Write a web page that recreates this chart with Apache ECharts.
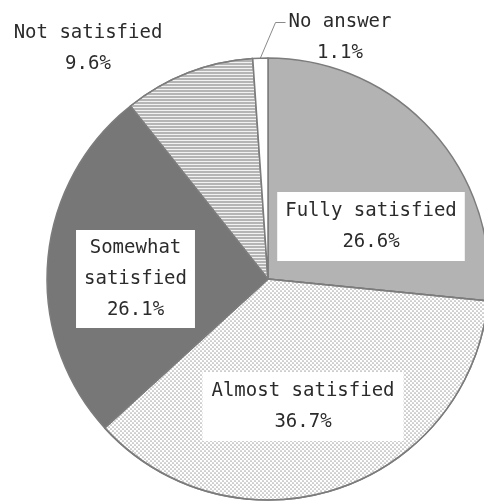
<!DOCTYPE html>
<html>
<head>
<meta charset="utf-8">
<script src="https://cdn.jsdelivr.net/npm/echarts@6/dist/echarts.min.js"></script>
<style>
  html, body { margin: 0; padding: 0; background: #ffffff; }
  #chart { width: 484px; height: 502px; }
</style>
</head>
<body>
<div id="chart"></div>
<script>
// ---- data ----
const categories = ["Fully satisfied", "Almost satisfied", "Somewhat satisfied", "Not satisfied", "No answer"];
const percents = [26.6, 36.7, 26.1, 9.6, 1.1];

// ---- styling (not data) ----
const labelCenters = [[371, 226.5], [303, 406.5], [135.5, 279], [88, 48.5], [340, 38]];
const FONT = '"DejaVu Sans Mono", "Liberation Mono", monospace';
const TEXT_COLOR = '#2b2b2b';
const BORDER = '#7c7c7c';

const boxLabel = (pad) => ({
  position: 'inside',
  backgroundColor: '#ffffff',
  padding: pad
});

const itemStyles = [
  { color: '#b3b3b3' },
  { color: '#ffffff', decal: { symbol: 'circle', symbolSize: 0.85, color: '#a8a8a8',
      dashArrayX: [[2, 2], [0, 2, 2, 0]], dashArrayY: [2, 0] } },
  { color: '#777777' },
  { color: '#f2f2f2', decal: { symbol: 'rect', symbolSize: 1, color: '#b5b5b5',
      dashArrayX: [1, 0], dashArrayY: [2, 1] } },
  { color: '#ffffff' }
];

const wrapName = (p) => p.name.replace(' ', '\n') + '\n' + p.value + '%';

const labels = [
  boxLabel([3.5, 8]),
  boxLabel([3.5, 9]),
  Object.assign(boxLabel([2.5, 8]), { formatter: wrapName }),
  { position: 'outside' },
  { position: 'outside' }
];

const labelLines = [
  { show: false }, { show: false }, { show: false }, { show: false },
  { show: true, length: 20, length2: 10, smooth: false, lineStyle: { color: '#8a8a8a', width: 1 } }
];

const seriesData = categories.map((name, i) => ({
  name: name,
  value: percents[i],
  itemStyle: itemStyles[i],
  label: labels[i],
  labelLine: labelLines[i]
}));

const chart = echarts.init(document.getElementById('chart'), null, { renderer: 'canvas' });
chart.setOption({
  animation: false,
  backgroundColor: '#ffffff',
  series: [{
    type: 'pie',
    center: [268, 279],
    radius: 221,
    startAngle: 90,
    clockwise: true,
    avoidLabelOverlap: false,
    silent: true,
    itemStyle: { borderColor: BORDER, borderWidth: 1.5 },
    label: {
      show: true,
      formatter: (p) => p.name + '\n' + p.value + '%',
      fontFamily: FONT,
      fontSize: 19,
      lineHeight: 31,
      color: TEXT_COLOR,
      align: 'center'
    },
    labelLayout: function (params) {
      const c = labelCenters[params.dataIndex];
      const out = { x: c[0], y: c[1], align: 'center', verticalAlign: 'middle' };
      if (params.labelLinePoints && params.labelLinePoints.length) {
        const w = params.labelRect.width;
        const h = params.labelRect.height;
        const left = c[0] - w / 2 - 3;
        const lineY = c[1] - h / 4;
        const p0 = params.labelLinePoints[0];
        out.labelLinePoints = [p0, [left - 10, lineY], [left, lineY]];
      }
      return out;
    },
    data: seriesData
  }]
});
</script>
</body>
</html>
